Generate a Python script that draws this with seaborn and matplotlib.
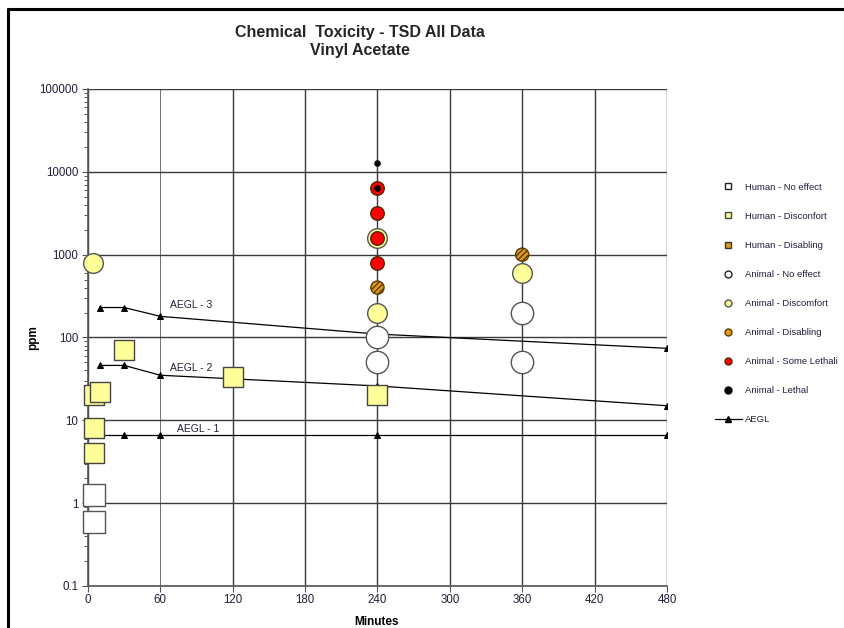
import matplotlib
matplotlib.use("Agg")
import matplotlib.pyplot as plt
import matplotlib.lines as mlines
import numpy as np
import pandas as pd
import seaborn as sns

# ---------------- data ----------------
human_noeffect_x = [5, 5]
human_noeffect_y = [1.25, 0.6]

human_discomfort_x = [5, 5, 5, 10, 30, 120, 240]
human_discomfort_y = [20, 8, 4, 22, 70, 33, 20]

human_disabling_x = []
human_disabling_y = []

animal_noeffect_x = [240, 240, 360, 360]
animal_noeffect_y = [100, 50, 200, 50]

animal_discomfort_x = [4, 240, 240, 360]
animal_discomfort_y = [800, 200, 1600, 600]

animal_disabling_x = [240, 360]
animal_disabling_y = [400, 1000]

animal_somelethal_x = [240, 240, 240, 240]
animal_somelethal_y = [6400, 3200, 1600, 800]

animal_lethal_x = [240, 240]
animal_lethal_y = [12800, 6400]

aegl_x = [10, 30, 60, 240, 480]
aegl3_y = [230, 230, 180, 110, 74]
aegl2_y = [46, 46, 35, 26, 15]
aegl1_y = [6.7, 6.7, 6.7, 6.7, 6.7]

x_ticks = [0, 60, 120, 180, 240, 300, 360, 420, 480]
y_ticks = [0.1, 1, 10, 100, 1000, 10000, 100000]
y_tick_labels = ["0.1", "1", "10", "100", "1000", "10000", "100000"]

# ---------------- style ----------------
sns.set_style("white")
plt.rcParams["font.family"] = ["Liberation Sans", "DejaVu Sans"]
txt_col = "#1f1f3a"

fig = plt.figure(figsize=(8.45, 6.28), dpi=100)
ax = fig.add_axes([0.1041, 0.0669, 0.6852, 0.7914])

ax.set_yscale("log")
ax.set_xlim(0, 480)
ax.set_ylim(0.1, 100000)

# AEGL lines
for yy in (aegl3_y, aegl2_y, aegl1_y):
    d = pd.DataFrame({"x": aegl_x, "y": yy})
    sns.lineplot(data=d, x="x", y="y", ax=ax, color="black", lw=0.9,
                 marker="^", markersize=4.5, markeredgecolor="black", zorder=3)

series = [
    ("Human - No effect", human_noeffect_x, human_noeffect_y, "s", "white", "#555555", 250, None),
    ("Human - Disconfort", human_discomfort_x, human_discomfort_y, "s", "#FFFF99", "#444444", 190, None),
    ("Human - Disabling", human_disabling_x, human_disabling_y, "s", "#E09A1A", "#333333", 190, "//////"),
    ("Animal - No effect", animal_noeffect_x, animal_noeffect_y, "o", "white", "#555555", 260, None),
    ("Animal - Discomfort", animal_discomfort_x, animal_discomfort_y, "o", "#FFFF99", "#555555", 200, None),
    ("Animal - Disabling", animal_disabling_x, animal_disabling_y, "o", "#E09A1A", "#5a3a00", 90, "//////"),
    ("Animal - Some Lethality", animal_somelethal_x, animal_somelethal_y, "o", "#FF0000", "#4a2a00", 95, None),
    ("Animal - Lethal", animal_lethal_x, animal_lethal_y, "o", "black", "black", 14, None),
]

z = 4
for name, xs, ys, mk, fc, ec, s, hatch in series:
    if len(xs):
        d = pd.DataFrame({"x": xs, "y": ys})
        sns.scatterplot(data=d, x="x", y="y", ax=ax, marker=mk, s=s,
                        color=fc, edgecolor=ec, linewidth=1.0, zorder=z,
                        clip_on=False)
        if hatch:
            ax.collections[-1].set_hatch(hatch)
    z += 1

# AEGL labels
ax.text(68, 250, "AEGL - 3", fontsize=7.5, color=txt_col, va="center", ha="left")
ax.text(68, 43, "AEGL - 2", fontsize=7.5, color=txt_col, va="center", ha="left")
ax.text(74, 7.8, "AEGL - 1", fontsize=7.5, color=txt_col, va="center", ha="left")

# grid & ticks
ax.set_xticks(x_ticks)
ax.set_xticklabels([str(t) for t in x_ticks])
ax.set_yticks(y_ticks)
ax.set_yticklabels(y_tick_labels)
ax.yaxis.set_minor_locator(matplotlib.ticker.LogLocator(base=10, subs=np.arange(2, 10)))
ax.yaxis.set_minor_formatter(matplotlib.ticker.NullFormatter())
ax.grid(True, which="major", color="#3a3a3a", lw=1.0, zorder=0)
ax.set_axisbelow(True)
ax.xaxis.get_gridlines()[1].set_linewidth(0.5)
ax.tick_params(axis="both", which="major", labelsize=8.3, labelcolor=txt_col,
               length=4, width=0.8, color="#555555", direction="out")
ax.tick_params(axis="y", which="minor", length=3, width=0.7, color="#555555", left=True)
ax.tick_params(axis="y", which="major", left=True, pad=3)
ax.tick_params(axis="x", which="major", bottom=True, pad=2)

for sp in ["top", "right"]:
    ax.spines[sp].set_visible(False)
for sp in ["left", "bottom"]:
    ax.spines[sp].set_color("#555555")
    ax.spines[sp].set_linewidth(1.2)

ax.set_xlabel("Minutes", fontsize=8.5, fontweight="bold", color="black")
ax.set_ylabel("ppm", fontsize=8.5, fontweight="bold", color="black")
ax.xaxis.set_label_coords((377 - 88) / 579, -(616 - 586) / 497)
ax.yaxis.set_label_coords(-(88 - 39) / 579, (586 - 338) / 497)

# title
fig.text(360 / 845, 1 - 32 / 628, "Chemical  Toxicity - TSD All Data", ha="center", va="center",
         fontsize=11.5, fontweight="bold")
fig.text(360 / 845, 1 - 50 / 628, "Vinyl Acetate", ha="center", va="center",
         fontsize=11.5, fontweight="bold")

# legend
handles = []
for name, xs, ys, mk, fc, ec, s, hatch in series:
    h = mlines.Line2D([], [], linestyle="none", marker=mk, markersize=5,
                      markerfacecolor=fc, markeredgecolor=ec if fc != "white" else "#222222",
                      markeredgewidth=1.0, label=name.replace("Some Lethality", "Some Lethali"))
    handles.append(h)
handles.append(mlines.Line2D([], [], color="black", lw=0.9, marker="^", markersize=4.5,
                             label="AEGL"))
leg = fig.legend(handles=handles, loc="upper left", bbox_to_anchor=(711 / 845, 1 - 179 / 628),
                 frameon=False, fontsize=6.8, labelspacing=2.12, handlelength=2.85,
                 handletextpad=0.35, borderaxespad=0)
for t in leg.get_texts():
    t.set_color(txt_col)

# outer frame (left and top)
fig.add_artist(mlines.Line2D([8 / 845, 8 / 845], [0, 1 - 9 / 628], color="black", lw=2.2,
                             transform=fig.transFigure))
fig.add_artist(mlines.Line2D([8 / 845, 1], [1 - 9 / 628, 1 - 9 / 628], color="black", lw=2.2,
                             transform=fig.transFigure))

fig.savefig("out.png", dpi=100)
